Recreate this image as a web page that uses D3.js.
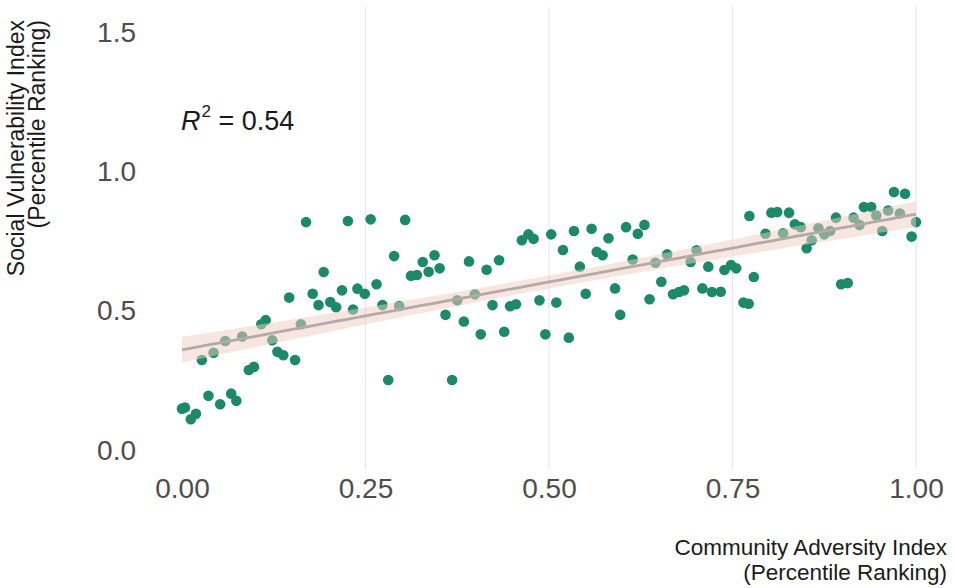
<!DOCTYPE html>
<html>
<head>
<meta charset="utf-8">
<script src="https://cdn.jsdelivr.net/npm/d3@7"></script>
<style>
  html, body { margin: 0; padding: 0; background: #ffffff; }
  svg { display: block; font-family: "Liberation Sans", Arial, sans-serif; }
</style>
</head>
<body>
<svg id="chart" width="955" height="588"></svg>
<script>
// Community Adversity Index (x) vs Social Vulnerability Index (y), percentile rankings
const adversity = [
  0.169, 0.226, 0.193, 0.146, 0.178, 0.218, 0.239, 0.186, 0.202, 0.210,
  0.233, 0.108, 0.114, 0.162, 0.082, 0.059, 0.123, 0.043, 0.027, 0.130,
  0.138, 0.154, 0.091, 0.098, 0.036, 0.052, 0.067, 0.074, 0.000, 0.004,
  0.012, 0.019, 0.249, 0.257, 0.304, 0.265, 0.273, 0.296, 0.289, 0.328,
  0.344, 0.312, 0.320, 0.336, 0.351, 0.391, 0.415, 0.432, 0.463, 0.472,
  0.479, 0.359, 0.375, 0.384, 0.399, 0.407, 0.423, 0.439, 0.447, 0.455,
  0.487, 0.495, 0.281, 0.368, 0.503, 0.534, 0.558, 0.581, 0.605, 0.621,
  0.630, 0.519, 0.565, 0.573, 0.542, 0.614, 0.645, 0.661, 0.693, 0.701,
  0.717, 0.739, 0.748, 0.755, 0.510, 0.550, 0.590, 0.653, 0.637, 0.669,
  0.677, 0.684, 0.709, 0.722, 0.734, 0.597, 0.527, 0.773, 0.803, 0.811,
  0.827, 0.835, 0.843, 0.795, 0.819, 0.851, 0.858, 0.867, 0.875, 0.883,
  0.891, 0.915, 0.923, 0.929, 0.939, 0.946, 0.954, 0.962, 0.978, 0.970,
  0.985, 1.000, 0.994, 0.898, 0.907, 0.779, 0.765, 0.772
];
const vulnerability = [
  0.816, 0.820, 0.637, 0.545, 0.559, 0.571, 0.577, 0.518, 0.529, 0.510,
  0.502, 0.449, 0.464, 0.449, 0.405, 0.389, 0.392, 0.347, 0.321, 0.350,
  0.338, 0.321, 0.285, 0.296, 0.192, 0.162, 0.200, 0.174, 0.146, 0.150,
  0.108, 0.128, 0.559, 0.826, 0.824, 0.593, 0.518, 0.515, 0.694, 0.673,
  0.697, 0.623, 0.626, 0.638, 0.650, 0.675, 0.645, 0.679, 0.751, 0.772,
  0.756, 0.483, 0.535, 0.459, 0.557, 0.413, 0.518, 0.422, 0.514, 0.521,
  0.535, 0.413, 0.249, 0.249, 0.772, 0.784, 0.792, 0.758, 0.798, 0.774,
  0.806, 0.716, 0.709, 0.697, 0.656, 0.682, 0.670, 0.700, 0.673, 0.715,
  0.656, 0.644, 0.662, 0.650, 0.527, 0.559, 0.578, 0.602, 0.539, 0.557,
  0.565, 0.571, 0.578, 0.565, 0.566, 0.483, 0.401, 0.838, 0.850, 0.852,
  0.850, 0.808, 0.798, 0.774, 0.776, 0.722, 0.751, 0.794, 0.772, 0.784,
  0.832, 0.832, 0.806, 0.870, 0.870, 0.840, 0.784, 0.858, 0.847, 0.924,
  0.918, 0.816, 0.764, 0.593, 0.597, 0.619, 0.527, 0.523
];
const xTicks = [0, 0.25, 0.5, 0.75, 1.0];
const yTicks = [0, 0.5, 1.0, 1.5];
const gridTicks = [0.25, 0.5, 0.75, 1.0];
const rSquaredLabel = "0.54";
const xTitleLines = ["Community Adversity Index", "(Percentile Ranking)"];
const yTitleLines = ["Social Vulnerability Index", "(Percentile Ranking)"];

const svg = d3.select("#chart");

// Scales: data range padded on each side
const x = d3.scaleLinear().domain([-0.05, 1.05]).range([145.3, 952.7]);
const y = d3.scaleLinear().domain([-0.075, 1.575]).range([470.2, 10.8]);

// Vertical grid lines
svg.append("g")
  .selectAll("line")
  .data(gridTicks)
  .join("line")
  .attr("x1", d => x(d)).attr("x2", d => x(d))
  .attr("y1", y(-0.07)).attr("y2", y(1.59))
  .attr("stroke", "#e6e6e6")
  .attr("stroke-width", 1.1);

// Axes (labels only)
const yAxis = svg.append("g")
  .attr("transform", `translate(${136},0)`)
  .call(d3.axisLeft(y).tickValues(yTicks).tickFormat(d3.format(".1f")).tickSize(0).tickPadding(0));
yAxis.select(".domain").remove();
yAxis.selectAll("text")
  .attr("font-size", 28)
  .attr("fill", "#4d4d4d")
  .attr("dy", "0.35em")
  .style("font-family", "'Liberation Sans', Arial, sans-serif");

const xAxis = svg.append("g")
  .attr("transform", `translate(0,${478})`)
  .call(d3.axisBottom(x).tickValues(xTicks).tickFormat(d3.format(".2f")).tickSize(0).tickPadding(0));
xAxis.select(".domain").remove();
xAxis.selectAll("text")
  .attr("font-size", 28)
  .attr("fill", "#4d4d4d")
  .attr("dy", "0.72em")
  .style("font-family", "'Liberation Sans', Arial, sans-serif");

// Points
const points = adversity.map((a, i) => ({ x: a, y: vulnerability[i] }));
svg.append("g")
  .selectAll("circle")
  .data(points)
  .join("circle")
  .attr("cx", d => x(d.x))
  .attr("cy", d => y(d.y))
  .attr("r", 5.3)
  .attr("fill", "#1c8a6a");

// Least-squares fit with 95% confidence band
const n = points.length;
const mx = d3.mean(points, d => d.x);
const my = d3.mean(points, d => d.y);
const sxx = d3.sum(points, d => (d.x - mx) ** 2);
const sxy = d3.sum(points, d => (d.x - mx) * (d.y - my));
const slope = sxy / sxx;
const intercept = my - slope * mx;
const rss = d3.sum(points, d => (d.y - (intercept + slope * d.x)) ** 2);
const sigma = Math.sqrt(rss / (n - 2));
const tCrit = 1.979;
const [xMin, xMax] = d3.extent(points, d => d.x);
const fitGrid = d3.range(0, 81).map(i => {
  const xv = xMin + (xMax - xMin) * i / 80;
  const fit = intercept + slope * xv;
  const se = sigma * Math.sqrt(1 / n + (xv - mx) ** 2 / sxx);
  return { x: xv, fit, lo: fit - tCrit * se, hi: fit + tCrit * se };
});

svg.append("path")
  .datum(fitGrid)
  .attr("d", d3.area().x(d => x(d.x)).y0(d => y(d.lo)).y1(d => y(d.hi)))
  .attr("fill", "#f0cdc2")
  .attr("fill-opacity", 0.5);

svg.append("path")
  .datum(fitGrid)
  .attr("d", d3.line().x(d => x(d.x)).y(d => y(d.fit)))
  .attr("fill", "none")
  .attr("stroke", "#b5a9a8")
  .attr("stroke-width", 2.8);

// R² annotation
const r2 = svg.append("text")
  .attr("x", 181)
  .attr("y", 130)
  .attr("font-size", 27)
  .attr("fill", "#1a1a1a");
r2.append("tspan").attr("font-style", "italic").text("R");
r2.append("tspan").attr("font-size", 17).attr("dy", -13).attr("dx", 1).text("2");
r2.append("tspan").attr("dy", 13).text(" = " + rSquaredLabel);

// Axis titles (two lines, right-aligned)
xTitleLines.forEach((line, i) => {
  svg.append("text")
    .attr("x", 947)
    .attr("y", 555 + i * 25)
    .attr("text-anchor", "end")
    .attr("font-size", 22.5)
    .attr("fill", "#1a1a1a")
    .text(line);
});

yTitleLines.forEach((line, i) => {
  svg.append("text")
    .attr("transform", `translate(${24 + i * 21},20) rotate(-90)`)
    .attr("text-anchor", "end")
    .attr("font-size", 23)
    .attr("fill", "#1a1a1a")
    .text(line);
});
</script>
</body>
</html>
